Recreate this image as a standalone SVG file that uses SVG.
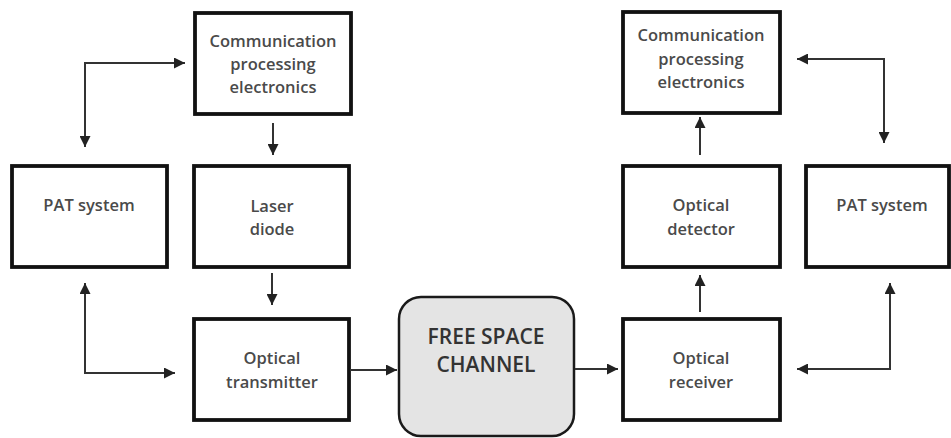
<svg xmlns="http://www.w3.org/2000/svg" width="951" height="438" viewBox="0 0 951 438">
  <style>
    .box { fill: #ffffff; stroke: #111111; stroke-width: 3.8; }
    .channel { fill: #e4e4e4; stroke: #1a1a1a; stroke-width: 2.5; }
    .lbl { font-family: "Open Sans", "Liberation Sans", sans-serif; font-size: 16.5px; font-weight: 600; fill: #4a4a4a; text-anchor: middle; }
    .big { font-family: "Open Sans", "Liberation Sans", sans-serif; font-size: 21px; font-weight: 600; fill: #333333; text-anchor: middle; }
    .wire { fill: none; stroke: #333333; stroke-width: 2; marker-end: url(#tip); }
    .wire2 { fill: none; stroke: #333333; stroke-width: 2; marker-start: url(#tipS); marker-end: url(#tip); }
  </style>
  <defs>
    <marker id="tip" viewBox="0 0 10 10" refX="10" refY="5" markerWidth="5.5" markerHeight="5.5" orient="auto" markerUnits="strokeWidth">
      <path d="M0,0 L10,5 L0,10 Z" fill="#222222"/>
    </marker>
    <marker id="tipS" viewBox="0 0 10 10" refX="0" refY="5" markerWidth="5.5" markerHeight="5.5" orient="auto" markerUnits="strokeWidth">
      <path d="M10,0 L0,5 L10,10 Z" fill="#222222"/>
    </marker>
  </defs>
  <rect width="951" height="438" fill="#ffffff"/>

  <!-- transmitter side -->
  <g id="tx-comm">
    <rect class="box" x="195" y="13" width="156" height="101"/>
    <text class="lbl" x="273" y="47">Communication</text>
    <text class="lbl" x="273" y="70">processing</text>
    <text class="lbl" x="273" y="93">electronics</text>
  </g>
  <g id="tx-pat">
    <rect class="box" x="12" y="166" width="155" height="101"/>
    <text class="lbl" x="89" y="211">PAT system</text>
  </g>
  <g id="laser">
    <rect class="box" x="194" y="166" width="155" height="101"/>
    <text class="lbl" x="272" y="212">Laser</text>
    <text class="lbl" x="272" y="235">diode</text>
  </g>
  <g id="tx-optics">
    <rect class="box" x="194" y="319" width="155" height="101"/>
    <text class="lbl" x="272" y="364">Optical</text>
    <text class="lbl" x="272" y="388">transmitter</text>
  </g>

  <!-- channel -->
  <g id="channel">
    <rect class="channel" x="399" y="297" width="175" height="139" rx="22" ry="22"/>
    <text class="big" x="486" y="344">FREE SPACE</text>
    <text class="big" x="486" y="372">CHANNEL</text>
  </g>

  <!-- receiver side -->
  <g id="rx-comm">
    <rect class="box" x="623" y="12" width="157" height="101"/>
    <text class="lbl" x="701" y="41">Communication</text>
    <text class="lbl" x="701" y="65">processing</text>
    <text class="lbl" x="701" y="88">electronics</text>
  </g>
  <g id="detector">
    <rect class="box" x="623" y="166" width="157" height="101"/>
    <text class="lbl" x="701" y="211">Optical</text>
    <text class="lbl" x="701" y="235">detector</text>
  </g>
  <g id="rx-pat">
    <rect class="box" x="806" y="166" width="143" height="101"/>
    <text class="lbl" x="882" y="211">PAT system</text>
  </g>
  <g id="rx-optics">
    <rect class="box" x="623" y="319" width="157" height="101"/>
    <text class="lbl" x="701" y="364">Optical</text>
    <text class="lbl" x="701" y="388">receiver</text>
  </g>

  <g id="connectors">
    <path class="wire2" d="M85,147 L85,63 L185,63"/>
    <path class="wire" d="M273,123 L273,155"/>
    <path class="wire" d="M272,273 L272,305"/>
    <path class="wire2" d="M85,283 L85,373 L175,373"/>
    <path class="wire" d="M350,370 L397,370"/>
    <path class="wire" d="M575,369 L618,369"/>
    <path class="wire" d="M700,312 L700,275"/>
    <path class="wire" d="M700,155 L700,117"/>
    <path class="wire2" d="M797,59 L884,59 L884,143"/>
    <path class="wire2" d="M890,283 L890,369 L797,369"/>
  </g>
</svg>
